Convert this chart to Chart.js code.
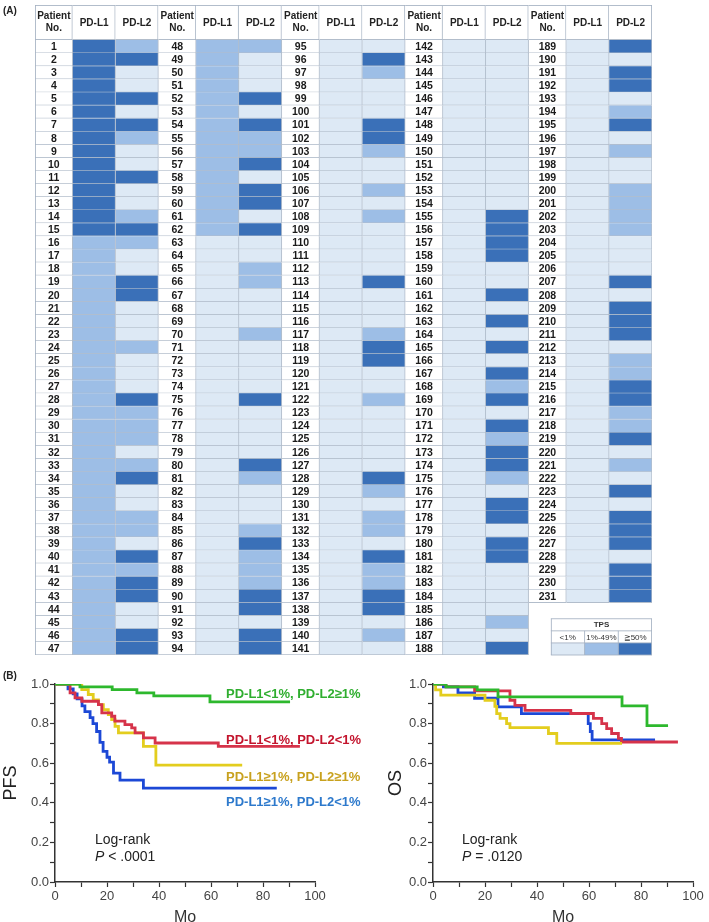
<!DOCTYPE html>
<html><head><meta charset="utf-8">
<script src="https://cdn.jsdelivr.net/npm/chart.js@4.4.1/dist/chart.umd.min.js"></script>
<style>
html,body{margin:0;padding:0;background:#fff;width:709px;height:922px;overflow:hidden;position:relative;font-family:"Liberation Sans",Arial,sans-serif;}
canvas{position:absolute;}
.t{position:absolute;white-space:nowrap;line-height:1;}
.lab{font-size:13px;font-weight:bold;}
.lr{font-size:14px;line-height:17px;color:#222;}
</style></head><body>
<canvas id="tbl" width="709" height="660" style="left:0;top:0;width:709px;height:660px"></canvas>
<canvas id="pfs" width="355" height="267" style="left:0;top:660px;width:355px;height:267px"></canvas>
<canvas id="os" width="324" height="267" style="left:385px;top:660px;width:324px;height:267px"></canvas>

<div class="t" style="left:3px;top:6px;font-size:10px;font-weight:bold;color:#222">(A)</div>
<div class="t" style="left:3px;top:671px;font-size:10px;font-weight:bold;color:#222">(B)</div>

<div class="t lab" style="left:226px;top:687px;color:#2fae2f">PD-L1&lt;1%, PD-L2≥1%</div>
<div class="t lab" style="left:226px;top:733px;color:#c3142d">PD-L1&lt;1%, PD-L2&lt;1%</div>
<div class="t lab" style="left:226px;top:770px;color:#c8a11e">PD-L1≥1%, PD-L2≥1%</div>
<div class="t lab" style="left:226px;top:795px;color:#2d79cc">PD-L1≥1%, PD-L2&lt;1%</div>

<div class="t lr" style="left:95px;top:831px">Log-rank<br><i>P</i> &lt; .0001</div>
<div class="t lr" style="left:462px;top:831px">Log-rank<br><i>P</i> = .0120</div>

<script>
// ---------- DATA: TPS level per patient (0: <1%, 1: 1%-49%, 2: >=50%) ----------
const groupStart = [1, 48, 95, 142, 189];
const levelNames = ['<1%', '1%-49%', '≧50%'];

const pdl1G1 = [2,2,2,2,2,2,2,2,2,2, 2,2,2,2,2,1,1,1,1,1, 1,1,1,1,1,1,1,1,1,1, 1,1,1,1,1,1,1,1,1,1, 1,1,1,1,1,1,1];
const pdl1G2 = [1,1,1,1,1,1,1,1,1,1, 1,1,1,1,1,0,0,0,0,0, 0,0,0,0,0,0,0,0,0,0, 0,0,0,0,0,0,0,0,0,0, 0,0,0,0,0,0,0];
const pdl1G3 = [0,0,0,0,0,0,0,0,0,0, 0,0,0,0,0,0,0,0,0,0, 0,0,0,0,0,0,0,0,0,0, 0,0,0,0,0,0,0,0,0,0, 0,0,0,0,0,0,0];
const pdl1G4 = [0,0,0,0,0,0,0,0,0,0, 0,0,0,0,0,0,0,0,0,0, 0,0,0,0,0,0,0,0,0,0, 0,0,0,0,0,0,0,0,0,0, 0,0,0,0,0,0,0];
const pdl1G5 = [0,0,0,0,0,0,0,0,0,0, 0,0,0,0,0,0,0,0,0,0, 0,0,0,0,0,0,0,0,0,0, 0,0,0,0,0,0,0,0,0,0, 0,0,0];

const pdl2G1 = [1,2,0,0,2,0,2,1,0,0, 2,0,0,1,2,1,0,0,2,2, 0,0,0,1,0,0,0,2,1,1, 1,0,1,2,0,0,1,1,0,2, 1,2,2,0,0,2,2];
const pdl2G2 = [1,0,0,0,2,0,2,1,1,2, 0,2,2,0,2,0,0,1,1,0, 0,0,1,0,0,0,0,2,0,0, 0,0,2,1,0,0,0,1,2,1, 1,1,2,2,0,2,2];
const pdl2G3 = [0,2,1,0,0,0,2,2,1,0, 0,1,0,1,0,0,0,0,2,0, 0,0,1,2,2,0,0,1,0,0, 0,0,0,2,1,0,1,1,0,2, 1,1,2,2,0,1,0];
const pdl2G4 = [0,0,0,0,0,0,0,0,0,0, 0,0,0,2,2,2,2,0,0,2, 0,2,0,2,0,2,1,2,0,2, 1,2,2,1,0,2,2,0,2,2, 0,0,0,0,1,0,2];
const pdl2G5 = [2,0,2,2,0,1,2,0,1,0, 0,1,1,1,1,0,0,0,2,0, 2,2,2,0,1,1,2,2,1,1, 2,0,1,0,2,0,2,2,2,0, 2,2,2];

// ---------- DATA: Kaplan-Meier step points (months, survival) ----------
const pfsGreenT  = [0, 9.6, 22, 31.5, 38, 59.6, 90.4];
const pfsGreenS  = [1, 0.985, 0.972, 0.955, 0.94, 0.91, 0.91];
const pfsRedT    = [0, 5.8, 7.7, 10.3, 16.7, 18, 21.8, 23, 26.9, 29.5, 30.8, 34, 38.5, 62.8, 94.2];
const pfsRedS    = [1, 0.955, 0.93, 0.913, 0.896, 0.854, 0.837, 0.812, 0.795, 0.778, 0.753, 0.728, 0.702, 0.685, 0.685];
const pfsYellowT = [0, 10.3, 12.8, 14.7, 16.7, 18.6, 20.5, 21.8, 23.1, 24.4, 34, 38.8, 72];
const pfsYellowS = [1, 0.972, 0.947, 0.92, 0.896, 0.87, 0.845, 0.82, 0.786, 0.753, 0.685, 0.59, 0.59];
const pfsBlueT   = [0, 5, 7, 8.5, 10.4, 11.5, 13.5, 14.6, 16, 17.3, 18.5, 20, 21, 22.5, 25, 34, 85.3];
const pfsBlueS   = [1, 0.975, 0.95, 0.925, 0.89, 0.86, 0.83, 0.80, 0.76, 0.705, 0.66, 0.63, 0.605, 0.55, 0.515, 0.474, 0.474];

const osGreenT  = [0, 5, 17, 25, 72.7, 82.3, 90.4];
const osGreenS  = [1, 0.985, 0.97, 0.935, 0.89, 0.79, 0.79];
const osRedT    = [0, 5, 16, 29.6, 31.5, 35.4, 53, 61.7, 64.9, 66.8, 68.7, 71.3, 72.5, 94.2];
const osRedS    = [1, 0.985, 0.965, 0.918, 0.892, 0.867, 0.851, 0.826, 0.80, 0.775, 0.75, 0.725, 0.707, 0.707];
const osYellowT = [0, 1, 3, 20, 23.8, 24.5, 25.8, 28.3, 29.6, 44.4, 47.6, 72.7];
const osYellowS = [1, 0.97, 0.944, 0.918, 0.887, 0.85, 0.826, 0.80, 0.78, 0.75, 0.70, 0.70];
const osBlueT   = [0, 4, 9.6, 16, 25, 34, 59.7, 60.5, 61.2, 85.4];
const osBlueS   = [1, 0.985, 0.955, 0.928, 0.884, 0.85, 0.80, 0.76, 0.718, 0.718];

const xTicks = [0, 20, 40, 60, 80, 100];
const yTicks = [0.0, 0.2, 0.4, 0.6, 0.8, 1.0];

// ---------- TABLE (heatmap) ----------
const levelColor = ['#dde9f5', '#9dbee6', '#3a70b8'];
const cellBorder = 'rgba(165,178,194,0.85)';
const PW = 0.88, GW = 2.88;
const colStart = (g, c) => g * GW + (c === 0 ? 0 : PW + (c - 1));
const colEnd = (g, c) => colStart(g, c) + (c === 0 ? PW : 1);

const groups = [
  {l1: pdl1G1, l2: pdl2G1}, {l1: pdl1G2, l2: pdl2G2}, {l1: pdl1G3, l2: pdl2G3},
  {l1: pdl1G4, l2: pdl2G4}, {l1: pdl1G5, l2: pdl2G5}
];
const nRows = Math.max(...groups.map(g => g.l2.length));
const rowLabels = Array.from({length: nRows}, (_, i) => String(i + 1));

const tblDatasets = [];
groups.forEach((grp, g) => {
  const n = grp.l2.length;
  [null, grp.l1, grp.l2].forEach((arr, c) => {
    tblDatasets.push({
      data: rowLabels.map((_, r) => r < n ? [colStart(g, c), colEnd(g, c)] : null),
      backgroundColor: rowLabels.map((_, r) => (c === 0 || r >= n) ? '#ffffff' : levelColor[arr[r]]),
      borderColor: cellBorder,
      borderWidth: {top: 0, left: 0, right: 1, bottom: 1},
      borderSkipped: false,
      grouped: false,
      barPercentage: 1,
      categoryPercentage: 1
    });
  });
});

const tablePlugin = {
  id: 'tableText',
  afterDatasetsDraw(chart) {
    const {ctx, chartArea: a, scales: {x, y}} = chart;
    const band = (a.bottom - a.top) / nRows;
    ctx.save();
    // header cells
    const hTop = 5, hBot = a.top;
    groups.forEach((grp, g) => {
      for (let c = 0; c < 3; c++) {
        const x0 = x.getPixelForValue(colStart(g, c)), x1 = x.getPixelForValue(colEnd(g, c));
        ctx.fillStyle = '#fff';
        ctx.fillRect(x0, hTop, x1 - x0, hBot - hTop);
        ctx.strokeStyle = cellBorder; ctx.lineWidth = 1;
        ctx.beginPath();
        ctx.moveTo(x1 - 0.5, hTop); ctx.lineTo(x1 - 0.5, hBot);
        ctx.moveTo(x0, hTop + 0.5); ctx.lineTo(x1, hTop + 0.5);
        ctx.moveTo(x0, hBot - 0.5); ctx.lineTo(x1, hBot - 0.5);
        ctx.stroke();
        ctx.fillStyle = '#222';
        ctx.font = 'bold 10px "Liberation Sans", Arial, sans-serif';
        ctx.textAlign = 'center'; ctx.textBaseline = 'middle';
        const cx = (x0 + x1) / 2;
        if (c === 0) {
          ctx.fillText('Patient', cx, hTop + 11);
          ctx.fillText('No.', cx, hTop + 23);
        } else {
          ctx.fillText(c === 1 ? 'PD-L1' : 'PD-L2', cx, (hTop + hBot) / 2 + 1);
        }
      }
      // patient numbers
      ctx.font = 'bold 10.5px "Liberation Sans", Arial, sans-serif';
      ctx.fillStyle = '#1a1a1a';
      const cx = (x.getPixelForValue(colStart(g, 0)) + x.getPixelForValue(colEnd(g, 0))) / 2;
      for (let r = 0; r < grp.l2.length; r++) {
        ctx.fillText(String(groupStart[g] + r), cx, y.getPixelForValue(r) + 0.5);
      }
    });
    // left border
    ctx.strokeStyle = cellBorder;
    ctx.beginPath();
    ctx.moveTo(a.left + 0.5, hTop); ctx.lineTo(a.left + 0.5, a.bottom);
    ctx.stroke();

    // TPS legend
    const lx0 = x.getPixelForValue(12.04), lx1 = x.getPixelForValue(14.4);
    const ly0 = y.getPixelForValue(44) - band / 2 + 3;
    const rh = (a.bottom - ly0) / 3;
    const cw = (lx1 - lx0) / 3;
    ctx.fillStyle = '#fff';
    ctx.fillRect(lx0, ly0, lx1 - lx0, rh * 2);
    for (let i = 0; i < 3; i++) {
      ctx.fillStyle = levelColor[i];
      ctx.fillRect(lx0 + i * cw, ly0 + 2 * rh, cw, rh);
    }
    ctx.strokeStyle = cellBorder; ctx.lineWidth = 1;
    ctx.beginPath();
    for (let k = 0; k <= 3; k++) { ctx.moveTo(lx0, ly0 + k * rh); ctx.lineTo(lx1, ly0 + k * rh); }
    ctx.moveTo(lx0 + 0.5, ly0); ctx.lineTo(lx0 + 0.5, a.bottom);
    ctx.moveTo(lx1 - 0.5, ly0); ctx.lineTo(lx1 - 0.5, a.bottom);
    for (let i = 1; i < 3; i++) { ctx.moveTo(lx0 + i * cw, ly0 + rh); ctx.lineTo(lx0 + i * cw, a.bottom); }
    ctx.stroke();
    ctx.fillStyle = '#333';
    ctx.font = 'bold 8px "Liberation Sans", Arial, sans-serif';
    ctx.fillText('TPS', (lx0 + lx1) / 2, ly0 + rh / 2 + 0.5);
    ctx.font = '8px "Liberation Sans", Arial, sans-serif';
    levelNames.forEach((t, i) => ctx.fillText(t, lx0 + (i + 0.5) * cw, ly0 + rh * 1.5 + 0.5));
    ctx.restore();
  }
};

new Chart(document.getElementById('tbl'), {
  type: 'bar',
  data: {labels: rowLabels, datasets: tblDatasets},
  options: {
    indexAxis: 'y',
    responsive: false, animation: false,
    layout: {padding: {left: 35, right: 57, top: 40, bottom: 5}},
    plugins: {legend: {display: false}, tooltip: {enabled: false}},
    scales: {
      x: {type: 'linear', min: 0, max: 5 * GW, display: false},
      y: {type: 'category', display: false}
    }
  },
  plugins: [tablePlugin]
});

// ---------- KAPLAN-MEIER ----------
const pts = (T, S) => T.map((t, i) => ({x: t, y: S[i]}));
const curve = (T, S, color) => ({
  data: pts(T, S), borderColor: color, borderWidth: 2.8, pointRadius: 0,
  stepped: true, fill: false, tension: 0
});
const tickFont = {family: '"Liberation Sans", Arial, sans-serif', size: 13};
function kmOptions(title, yWidth, padRight) {
  return {
    responsive: false, animation: false,
    layout: {padding: {left: 0, right: padRight, top: 24, bottom: 0}},
    plugins: {legend: {display: false}, tooltip: {enabled: false}},
    scales: {
      x: {
        type: 'linear', min: 0, max: 100,
        ticks: {stepSize: 10, autoSkip: false, maxRotation: 0, padding: 2, color: '#444', font: tickFont,
          callback: v => xTicks.includes(v) ? String(v) : ''},
        grid: {display: true, drawOnChartArea: false, drawTicks: true, tickLength: 5, tickColor: '#333', tickWidth: 1.2},
        border: {display: true, color: '#333', width: 1.5},
        title: {display: true, text: 'Mo', color: '#333', padding: 0,
          font: {family: '"Liberation Sans", Arial, sans-serif', size: 16}},
        afterFit: s => { s.height = 45; }
      },
      y: {
        type: 'linear', min: 0, max: 1,
        ticks: {stepSize: 0.1, autoSkip: false, padding: 1, color: '#444', font: tickFont,
          callback: v => { const k = Math.round(v * 10) / 10; return yTicks.includes(k) ? k.toFixed(1) : ''; }},
        grid: {display: true, drawOnChartArea: false, drawTicks: true, tickLength: 5, tickColor: '#333', tickWidth: 1.2},
        border: {display: true, color: '#333', width: 1.5},
        title: {display: true, text: title, color: '#222', padding: 0,
          font: {family: '"Liberation Sans", Arial, sans-serif', size: 18}},
        afterFit: s => { s.width = yWidth; }
      }
    }
  };
}

new Chart(document.getElementById('pfs'), {
  type: 'line',
  data: {datasets: [
    curve(pfsGreenT, pfsGreenS, '#2db82d'),
    curve(pfsRedT, pfsRedS, '#d6334a'),
    curve(pfsYellowT, pfsYellowS, '#e3cd1e'),
    curve(pfsBlueT, pfsBlueS, '#1c48d6')
  ]},
  options: kmOptions('PFS', 55, 40)
});

new Chart(document.getElementById('os'), {
  type: 'line',
  data: {datasets: [
    curve(osGreenT, osGreenS, '#2db82d'),
    curve(osYellowT, osYellowS, '#e3cd1e'),
    curve(osRedT, osRedS, '#d6334a'),
    curve(osBlueT, osBlueS, '#1c48d6')
  ]},
  options: kmOptions('OS', 48, 16)
});
</script>
</body></html>
